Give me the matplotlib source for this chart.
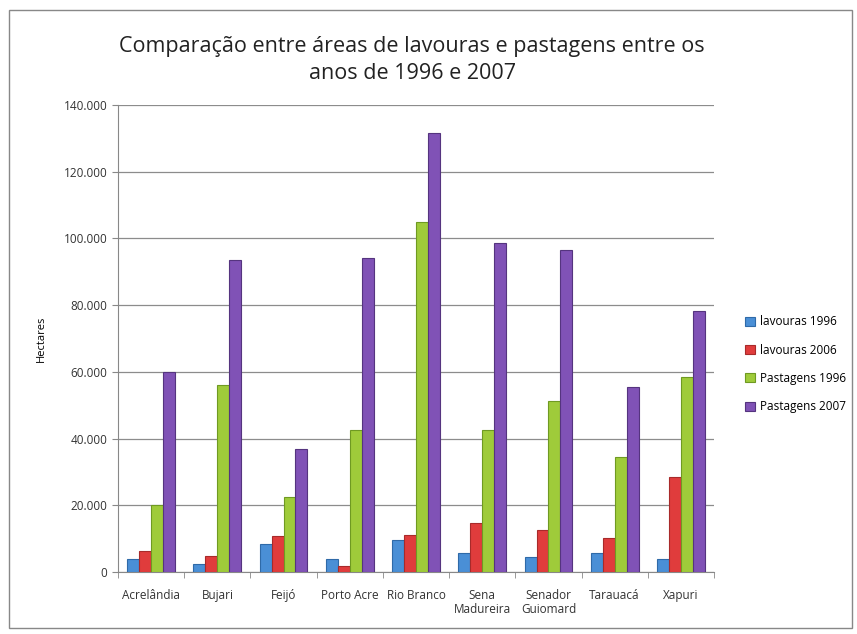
import matplotlib.pyplot as plt
import numpy as np
from matplotlib.ticker import FuncFormatter

plt.rcParams['font.family'] = ['Open Sans', 'DejaVu Sans']

municipios = ['Acrelândia', 'Bujari', 'Feijó', 'Porto Acre', 'Rio Branco',
              'Sena\nMadureira', 'Senador\nGuiomard', 'Tarauacá', 'Xapuri']
lavouras_1996 = [3900, 2400, 8400, 3900, 9600, 5700, 4500, 5700, 3900]
lavouras_2006 = [6300, 4800, 10800, 1800, 11000, 14700, 12600, 10200, 28500]
pastagens_1996 = [20000, 56000, 22500, 42500, 105000, 42500, 51300, 34500, 58500]
pastagens_2007 = [60000, 93500, 37000, 94000, 131600, 98600, 96500, 55500, 78300]

series = [('lavouras 1996', lavouras_1996, '#4a8fd6', '#2f6aa8'),
          ('lavouras 2006', lavouras_2006, '#e03c3c', '#a82a2a'),
          ('Pastagens 1996', pastagens_1996, '#9fcb3a', '#6f9a22'),
          ('Pastagens 2007', pastagens_2007, '#8052b6', '#55347f')]

fig = plt.figure(figsize=(8.57, 6.34), dpi=100)
ax = fig.add_axes([118/857, 1-572/634, 596/857, 467/634])

x = np.arange(len(municipios))
w = 0.18
for i, (nome, vals, cor, borda) in enumerate(series):
    ax.bar(x + (i - 1.5) * w, vals, w, color=cor, edgecolor=borda, linewidth=0.8,
           label=nome, zorder=3)

ax.set_xlim(-0.5, len(municipios) - 0.5)
ax.set_ylim(0, 140000)
ax.set_yticks(np.arange(0, 140001, 20000))
ax.yaxis.set_major_formatter(FuncFormatter(lambda v, p: f'{int(v):,}'.replace(',', '.')))
ax.grid(axis='y', color='#8c8c8c', linewidth=0.9, zorder=0)

ax.set_xticks(x)
ax.set_xticklabels(municipios, fontsize=8.5, color='#333333', linespacing=1.15)
ax.set_xticks(np.arange(-0.5, len(municipios)), minor=True)
ax.tick_params(axis='x', which='major', length=0, pad=12)
ax.tick_params(axis='x', which='minor', length=4, color='#888888')
ax.tick_params(axis='y', labelsize=8.5, length=4, color='#888888', labelcolor='#333333')

for s in ['top', 'right']:
    ax.spines[s].set_visible(False)
for s in ['left', 'bottom']:
    ax.spines[s].set_color('#888888')

ax.set_ylabel('Hectares', fontsize=8, labelpad=12)

fig.text(0.481, 0.905, 'Comparação entre áreas de lavouras e pastagens entre os\nanos de 1996 e 2007',
         ha='center', va='center', fontsize=15.5, color='#222222', linespacing=1.4)

ax.legend(loc='center left', bbox_to_anchor=(1.035, 0.445), frameon=False, fontsize=8.5,
          handlelength=0.8, handleheight=0.8, handletextpad=0.4, labelspacing=1.3)

fig.patches.append(plt.Rectangle((9/857, 1-628/634), 843/857, 618/634, transform=fig.transFigure,
                                 fill=False, edgecolor='#888888', linewidth=1))

fig.savefig('out.png', dpi=100)
